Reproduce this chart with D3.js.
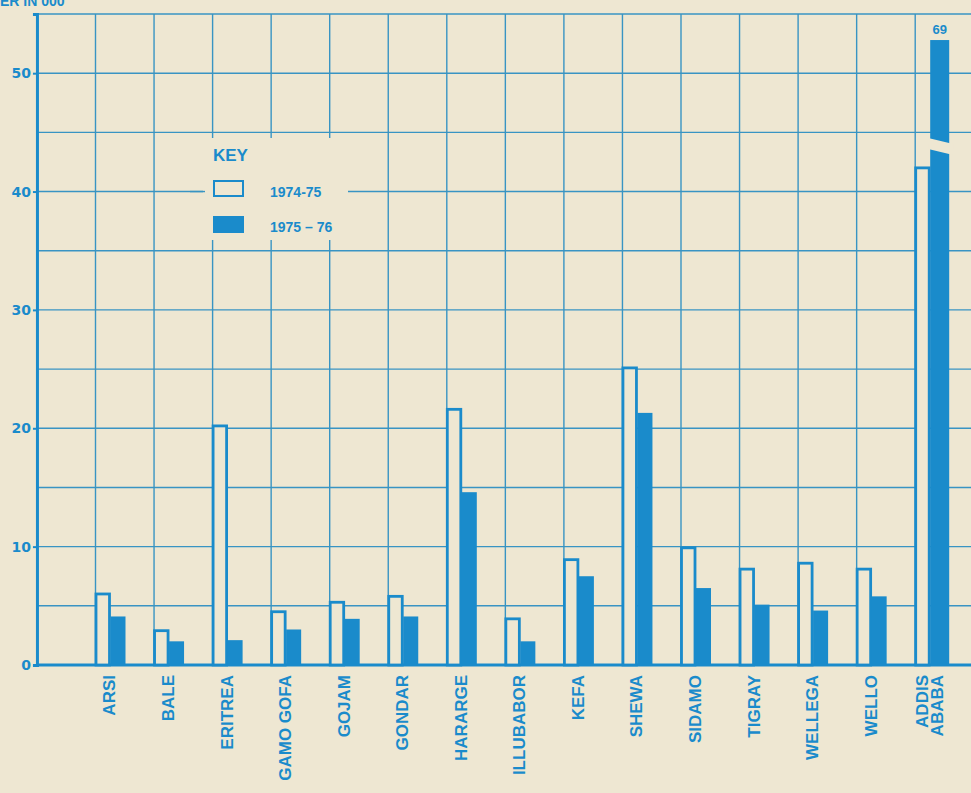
<html>
	<head>
		<title>Regional bar chart</title>
		<script type="text/javascript" src="https://d3js.org/d3.v7.min.js"></script>
		<style>
			body {
				margin: 0;
				background: #eee7d2;
				overflow: hidden;
			}
			text {
				font-family: "Liberation Sans", Arial, sans-serif;
				font-weight: bold;
				fill: #1a8bcb;
			}
		</style>
	</head>
	<body>
		<div></div>
		<script>
			//Chart data
			var categories = ["ARSI","BALE","ERITREA","GAMO GOFA","GOJAM","GONDAR","HARARGE","ILLUBABOR","KEFA","SHEWA","SIDAMO","TIGRAY","WELLEGA","WELLO","ADDIS ABABA"];
			var values_7475 = [6.0,2.9,20.2,4.5,5.3,5.8,21.6,3.9,8.9,25.1,9.9,8.1,8.6,8.1,42.0];
			var values_7576 = [4.1,2.0,2.1,3.0,3.9,4.1,14.6,2.0,7.5,21.3,6.5,5.1,4.6,5.8,69];
			var series_labels = ["1974-75","1975 \u2013 76"];
			var y_ticks = [0,10,20,30,40,50];
			var y_grid = [5,10,15,20,25,30,35,40,45,50,55];

			//Canvas dimensions
			var canvasWidth = 971;
			var canvasHeight = 793;

			var blue = "#1a8bcb";
			var gridBlue = "#3894c3";
			var paper = "#eee7d2";

			//Value where the tall bar is cut off
			var y_cap = 52.8;
			var y_break = 43.6;

			var canvas = d3.select("div").append("svg")
							.attr("width",canvasWidth)
							.attr("height",canvasHeight);

			canvas.append("rect").attr("width",canvasWidth).attr("height",canvasHeight).attr("fill",paper);

			//Scales
			var step = 58.55;
			var x = d3.scaleBand().domain(categories).range([95.5, 95.5 + step*categories.length]).padding(0);
			var y = d3.scaleLinear().domain([0,55]).range([665,14]);

			var hollowW = 15;
			var filledW = 15;

			//Unit label at top, cut off by the page edge as in the original
			canvas.append("text")
				.text("NUMBER IN 000")
				.attr("x",-42)
				.attr("y",6)
				.style("font-size","14px");

			//Grid lines
			var grid = canvas.append("g");
			grid.selectAll("line.h").data(y_grid).enter().append("line")
				.attr("x1",x.range()[0] - step).attr("x2",canvasWidth)
				.attr("y1",function(d){ return y(d); }).attr("y2",function(d){ return y(d); })
				.attr("stroke",gridBlue).attr("stroke-width",1.4);
			grid.selectAll("line.v").data(categories.concat(["end"])).enter().append("line")
				.attr("x1",function(d,i){ return x.range()[0] + i*step; })
				.attr("x2",function(d,i){ return x.range()[0] + i*step; })
				.attr("y1",y(55)).attr("y2",y(0))
				.attr("stroke",gridBlue).attr("stroke-width",1.4);

			//Axes
			var axis_left = canvas.append("g")
				.attr("transform","translate(" + (x.range()[0] - step) + ",0)")
				.call(d3.axisLeft(y).tickValues(y_ticks).tickSize(4).tickPadding(2).tickFormat(d3.format("d")));
			axis_left.select(".domain").attr("stroke",blue).attr("stroke-width",3);
			axis_left.selectAll(".tick line").attr("stroke",blue).attr("stroke-width",2);
			axis_left.selectAll(".tick text").style("font-family","'DejaVu Sans', sans-serif").style("font-size","14px").attr("fill",blue);

			canvas.append("line")
				.attr("x1",x.range()[0] - step - 1).attr("x2",canvasWidth)
				.attr("y1",y(0)).attr("y2",y(0))
				.attr("stroke",blue).attr("stroke-width",3);

			//Legend, with a blank patch behind it
			canvas.append("rect").attr("x",203).attr("y",138).attr("width",145).attr("height",102).attr("fill",paper);
			canvas.append("text").text("KEY").attr("x",213).attr("y",161).style("font-size","17px");
			canvas.append("rect").attr("x",214).attr("y",181).attr("width",29).attr("height",15)
				.attr("fill",paper).attr("stroke",blue).attr("stroke-width",2);
			canvas.append("rect").attr("x",213).attr("y",216).attr("width",31).attr("height",17).attr("fill",blue);
			canvas.append("line").attr("x1",190).attr("x2",205).attr("y1",y(40)).attr("y2",y(40)).attr("stroke",gridBlue).attr("stroke-width",1.4);
			canvas.append("text").text(series_labels[0]).attr("x",270).attr("y",197).style("font-size","14px");
			canvas.append("text").text(series_labels[1]).attr("x",270).attr("y",232).style("font-size","14px");

			//Hollow bars 1974-75
			canvas.selectAll("rect.hollow").data(values_7475).enter().append("rect")
				.attr("class","hollow")
				.attr("x",function(d,i){ return x(categories[i]) + 0.5; })
				.attr("y",function(d){ return y(Math.min(d,y_cap)); })
				.attr("width",hollowW - 1.5)
				.attr("height",function(d){ return y(0) - y(Math.min(d,y_cap)); })
				.attr("fill",paper).attr("stroke",blue).attr("stroke-width",2.8);

			//Filled bars 1975-76
			canvas.selectAll("rect.filled").data(values_7576).enter().append("rect")
				.attr("class","filled")
				.attr("x",function(d,i){ return x(categories[i]) + hollowW; })
				.attr("y",function(d){ return y(Math.min(d,y_cap)); })
				.attr("width",function(d){ return d > y_cap ? filledW + 4 : filledW; })
				.attr("height",function(d){ return y(0) - y(Math.min(d,y_cap)); })
				.attr("fill",blue);

			//Break mark and value on the cut bar
			values_7576.forEach(function(d,i){
				if(d <= y_cap) return;
				var x0 = x(categories[i]) + hollowW - 2;
				var x1 = x(categories[i]) + hollowW + filledW + 8;
				var yb = y(y_break);
				canvas.append("polygon")
					.attr("points",[[x0,yb-11],[x1,yb-5],[x1,yb+6],[x0,yb]].map(function(p){ return p.join(","); }).join(" "))
					.attr("fill",paper);
				canvas.append("text").text(d)
					.attr("x",x(categories[i]) + hollowW + (filledW + 4)/2)
					.attr("y",y(y_cap) - 6)
					.attr("text-anchor","middle")
					.style("font-size","13px");
			});

			//Category labels, rotated
			var labels = canvas.selectAll("text.cat").data(categories).enter().append("text")
				.attr("class","cat")
				.attr("transform",function(d){ return "translate(" + (x(d) + 14) + "," + (y(0) + 10) + ") rotate(-90)"; })
				.attr("text-anchor","end")
				.style("font-size","17px");
			labels.each(function(d){
				var parts = d === "ADDIS ABABA" ? ["ADDIS","ABABA"] : [d];
				var t = d3.select(this);
				parts.forEach(function(p,j){
					t.append("tspan").text(p)
						.attr("x",0)
						.attr("dy",parts.length > 1 ? (j === 0 ? "-0.05em" : "0.85em") : "0.35em");
				});
			});
		</script>
	</body>
</html>
